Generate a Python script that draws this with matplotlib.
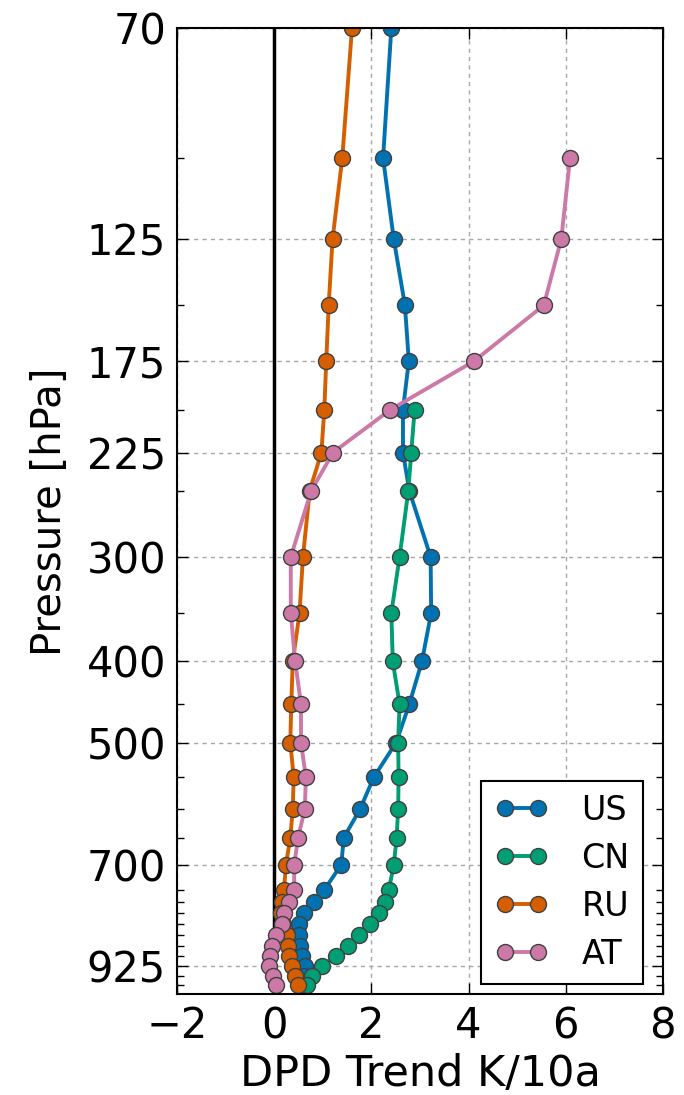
import numpy as np
import matplotlib
matplotlib.use('Agg')
import matplotlib.pyplot as plt
from matplotlib.ticker import FixedLocator, FixedFormatter, NullFormatter

# pressure levels (hPa)
levels = [70, 100, 125, 150, 175, 200, 225, 250, 300, 350, 400, 450, 500, 550,
          600, 650, 700, 750, 775, 800, 825, 850, 875, 900, 925, 950, 975]

us = [2.41, 2.24, 2.46, 2.69, 2.77, 2.65, 2.65, 2.78, 3.22, 3.23, 3.04, 2.78, 2.51, 2.05,
      1.77, 1.43, 1.38, 1.03, 0.81, 0.62, 0.50, 0.50, 0.52, 0.58, 0.63, 0.62, 0.62]
cn = [np.nan]*5 + [2.89, 2.82, 2.76, 2.58, 2.41, 2.44, 2.58, 2.55, 2.56,
      2.55, 2.52, 2.46, 2.36, 2.29, 2.15, 1.98, 1.74, 1.52, 1.28, 0.98, 0.77, 0.67]
ru = [1.60, 1.40, 1.20, 1.12, 1.07, 1.03, 0.97, 0.73, 0.59, 0.52, 0.38, 0.35, 0.33, 0.40,
      0.38, 0.33, 0.24, 0.20, 0.16, 0.14, 0.17, 0.26, 0.28, 0.31, 0.36, 0.42, 0.49]
at = [np.nan, 6.09, 5.91, 5.55, 4.11, 2.39, 1.21, 0.76, 0.34, 0.34, 0.43, 0.55, 0.55, 0.65,
      0.63, 0.49, 0.41, 0.41, 0.30, 0.20, 0.15, 0.04, -0.05, -0.09, -0.10, -0.03, 0.04]

names = ['US', 'CN', 'RU', 'AT']
colors = ['#0072B2', '#009E73', '#D55E00', '#CC79A7']
labelled = [70, 125, 175, 225, 300, 400, 500, 700, 925]

fig = plt.figure(figsize=(6.84, 10.95), dpi=100)
ax = fig.add_axes([0.259, 0.092, 0.710, 0.882])

for vals, name, c in zip([us, cn, ru, at], names, colors):
    ax.plot(vals, levels, '-o', color=c, lw=2.8, ms=11.5, mfc=c, mec='0.25', mew=1.0,
            label=name)

ax.axvline(0, color='k', lw=2.5, zorder=1.8)

ax.set_yscale('log')
ax.set_ylim(1000, 70)
ax.set_xlim(-2, 8)
ax.yaxis.set_major_locator(FixedLocator(labelled))
ax.yaxis.set_major_formatter(FixedFormatter([str(v) for v in labelled]))
ax.yaxis.set_minor_locator(FixedLocator([v for v in levels if v not in labelled]))
ax.yaxis.set_minor_formatter(NullFormatter())
ax.set_xticks([-2, 0, 2, 4, 6, 8])

ax.grid(True, which='major', color='0.65', linestyle=(0, (3, 3)), lw=1.0)
ax.tick_params(which='both', direction='in', top=True, right=True, labelsize=30, pad=8)
ax.tick_params(which='major', length=8, width=1)
ax.tick_params(which='minor', length=5, width=1)
for s in ax.spines.values():
    s.set_linewidth(1.5)

ax.set_xlabel('DPD Trend K/10a', fontsize=31)
ax.set_ylabel('Pressure [hPa]', fontsize=29, labelpad=12)

leg = ax.legend(loc='lower right', bbox_to_anchor=(0.98, 0.0), numpoints=2, fontsize=24,
                fancybox=False, edgecolor='k', framealpha=1, handlelength=1.6,
                borderaxespad=0.3, labelspacing=0.45, handletextpad=1.0)
leg.get_frame().set_linewidth(1.5)

fig.savefig('out.png', dpi=100)
